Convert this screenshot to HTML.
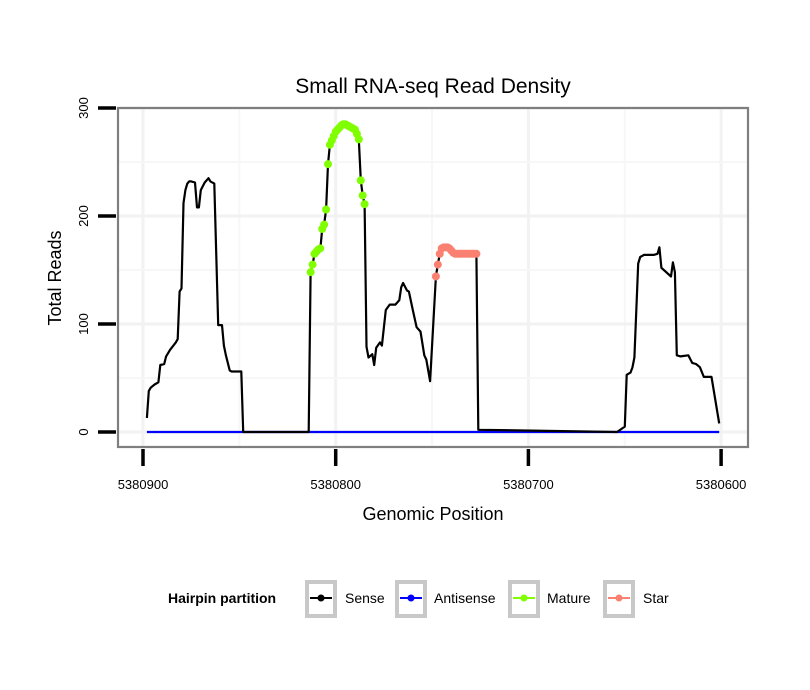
<!DOCTYPE html>
<html><head><meta charset="utf-8"><style>
body{margin:0;background:#fff;}
svg{display:block;font-family:"Liberation Sans",sans-serif;}
</style></head><body>
<svg id="chart" width="810" height="690" viewBox="0 0 810 690" xmlns="http://www.w3.org/2000/svg">
<rect width="810" height="690" fill="#fff"/>
<text x="433" y="93" font-size="21" text-anchor="middle">Small RNA-seq Read Density</text>
<g id="grid"></g>
<g id="series"></g>
<rect x="118" y="108" width="630" height="339" fill="none" stroke="#7f7f7f" stroke-width="2.2"/>
<g id="axes"></g>
<text x="433" y="520" font-size="18" text-anchor="middle">Genomic Position</text>
<text transform="translate(61,278) rotate(-90)" font-size="18" text-anchor="middle">Total Reads</text>
<g>
<text x="168" y="603" font-size="14" font-weight="bold">Hairpin partition</text>
<g>
<rect x="307" y="582" width="28" height="34" fill="#fff" stroke="#c8c8c8" stroke-width="4"/>
<line x1="310" y1="598" x2="332" y2="598" stroke="#000" stroke-width="2"/><circle cx="321" cy="598" r="3.5" fill="#000"/>
<text x="345" y="603" font-size="14">Sense</text></g>
<g>
<rect x="397" y="582" width="28" height="34" fill="#fff" stroke="#c8c8c8" stroke-width="4"/>
<line x1="400" y1="598" x2="422" y2="598" stroke="#0000ff" stroke-width="2"/><circle cx="411" cy="598" r="3.5" fill="#0000ff"/>
<text x="434" y="603" font-size="14">Antisense</text></g>
<g>
<rect x="510" y="582" width="28" height="34" fill="#fff" stroke="#c8c8c8" stroke-width="4"/>
<line x1="513" y1="598" x2="535" y2="598" stroke="#7fff00" stroke-width="2"/><circle cx="524" cy="598" r="3.5" fill="#7fff00"/>
<text x="547" y="603" font-size="14">Mature</text></g>
<g>
<rect x="605" y="582" width="28" height="34" fill="#fff" stroke="#c8c8c8" stroke-width="4"/>
<line x1="608" y1="598" x2="630" y2="598" stroke="#fa8072" stroke-width="2"/><circle cx="619" cy="598" r="3.5" fill="#fa8072"/>
<text x="643" y="603" font-size="14">Star</text></g>
</g>
</svg>
<script>
// offsets from 5380900 (genomic position = 5380900 - offset)
const senseOffsets = [2,3,4,6,8,9,11,12,14,17,18,19,20,21,22,23,24,25,27,28,29,30,32,34,35,37,39,41,42,43,45,46,51,52,86,87,88,89,90,92,93,94,95,96,97,98,100,103,105,107,110,112,113,114,115,116,117,119,120,121,123,124,126,128,131,133,134,135,137,138,140,142,144,146,147,149,152,153,154,155,156,158,160,163,168,173,174,246,250,251,253,254,255,257,258,260,265,267,268,269,274,275,276,277,279,283,285,287,289,291,295,299];
const senseValues  = [13,38,41,44,46,62,63,70,76,83,86,130,133,212,224,230,232,232,231,208,208,224,231,235,232,230,99,99,80,71,57,56,56,0,0,148,155,165,167,169,188,192,206,248,266,270,278,282,285,283,280,271,233,219,211,79,69,72,62,78,83,80,113,118,118,122,134,138,131,130,113,97,93,71,67,47,144,155,165,170,171,171,170,165,165,165,2,0,5,53,55,60,69,156,162,164,164,165,171,152,144,157,148,71,70,71,64,63,60,51,51,8];
const antisenseOffsets = [2,299];
const antisenseValues = [0,0];
const matureOffsets = [87,88,89,90,91,92,93,94,95,96,97,98,99,100,101,102,103,104,105,106,107,108,109,110,111,112,113,114,115];
const matureValues  = [148,155,165,167,169,170,188,192,206,248,266,270,274,278,280,282,284,285,285,284,283,282,281,280,276,271,233,219,211];
const starOffsets = [152,153,154,155,156,157,158,159,160,161,162,163,164,165,166,167,168,169,170,171,172,173];
const starValues  = [144,155,165,170,171,171,171,170,168,166,165,165,165,165,165,165,165,165,165,165,165,165];
const xTickOffsets = [0,100,200,300];
const xTickLabels = ["5380900","5380800","5380700","5380600"];
const yTicks = [0,100,200,300];

const NS="http://www.w3.org/2000/svg";
const X = d => 143 + d*1.927;
const Y = v => 432 - v*1.08;
function mk(tag, attrs, parent){const e=document.createElementNS(NS,tag);for(const k in attrs)e.setAttribute(k,attrs[k]);parent.appendChild(e);return e;}
const grid=document.getElementById('grid'), series=document.getElementById('series'), axes=document.getElementById('axes');
for(let d=0; d<=300; d+=50){
  const gl=mk('line',{x1:X(d),x2:X(d),y1:108,y2:447,stroke:d%100?'#f7f7f7':'#f2f2f2','stroke-width':d%100?2:3},grid);
  
  
}
for(let v=0; v<=300; v+=50){
  const gl=mk('line',{x1:118,x2:748,y1:Y(v),y2:Y(v),stroke:v%100?'#f7f7f7':'#f2f2f2','stroke-width':v%100?2:3},grid);
  
  
}
function path(offs, vals, color, w, name){
  const p=mk('path',{d:offs.map((o,i)=>(i?'L':'M')+X(o).toFixed(1)+','+Y(vals[i]).toFixed(1)).join(''),fill:'none',stroke:color,'stroke-width':w,'stroke-linejoin':'round'},series);
  
  
}
path(antisenseOffsets, antisenseValues, '#0000ff', 2.2, 'antisense-line');
path(senseOffsets, senseValues, '#000', 2.2, 'sense-line');
function pts(offs, vals, color, name){
  offs.forEach((o,i)=>{
    const c=mk('circle',{cx:X(o),cy:Y(vals[i]),r:4,fill:color},series);
    
    
  });
}
pts(matureOffsets, matureValues, '#7fff00', 'mature');
pts(starOffsets, starValues, '#fa8072', 'star');
xTickOffsets.forEach((d,i)=>{
  const t=mk('line',{x1:X(d),x2:X(d),y1:449,y2:466,stroke:'#000','stroke-width':3.5},axes);
  
  
  const l=mk('text',{x:X(d),y:489,'font-size':13,'text-anchor':'middle'},axes);
  l.textContent=xTickLabels[i];
  
  
});
yTicks.forEach(v=>{
  const t=mk('line',{x1:98,x2:116,y1:Y(v),y2:Y(v),stroke:'#000','stroke-width':3.5},axes);
  
  
  const l=mk('text',{transform:`translate(88,${Y(v)}) rotate(-90)`,'font-size':13,'text-anchor':'middle'},axes);
  l.textContent=v;
  
  
});
</script>
</body></html>
